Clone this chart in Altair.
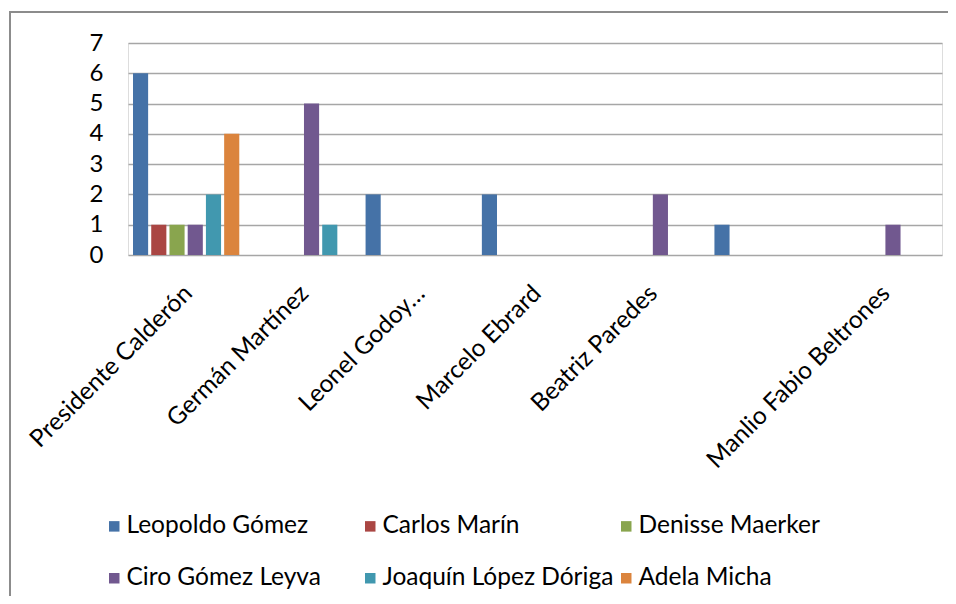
import altair as alt
import pandas as pd

categories = ["Presidente Calderón", "Germán Martínez", "Leonel Godoy…",
              "Marcelo Ebrard", "Beatriz Paredes", " ", "Manlio Fabio Beltrones"]
series = ["Leopoldo Gómez", "Carlos Marín", "Denisse Maerker",
          "Ciro Gómez Leyva", "Joaquín López Dóriga", "Adela Micha"]
colors = ["#4572A7", "#AA4643", "#89A54E", "#71588F", "#4198AF", "#DB843D"]

leopoldo = [6, 0, 2, 2, 0, 1, 0]
carlos = [1, 0, 0, 0, 0, 0, 0]
denisse = [1, 0, 0, 0, 0, 0, 0]
ciro = [1, 5, 0, 0, 2, 0, 1]
joaquin = [2, 1, 0, 0, 0, 0, 0]
adela = [4, 0, 0, 0, 0, 0, 0]

values = [leopoldo, carlos, denisse, ciro, joaquin, adela]
rows = []
for s, vals in zip(series, values):
    for c, v in zip(categories, vals):
        if v > 0:
            rows.append({"categoria": c, "serie": s, "valor": v})
df = pd.DataFrame(rows)

FONT = "Lato"

bars = alt.Chart(df).mark_bar().encode(
    x=alt.X("categoria:N", sort=categories, title=None,
            scale=alt.Scale(domain=categories, paddingInner=0.086, paddingOuter=0.043),
            axis=alt.Axis(labelAngle=-45, labelFontSize=24.5, labelFont=FONT,
                          labelColor="#000000", labelPadding=26, labelOffset=-6,
                          ticks=False, domain=False, grid=False, labelLimit=400)),
    xOffset=alt.XOffset("serie:N", sort=series,
                        scale=alt.Scale(domain=series, paddingInner=0.17, paddingOuter=0)),
    y=alt.Y("valor:Q", title=None,
            scale=alt.Scale(domain=[0, 7], nice=False),
            axis=alt.Axis(values=[0, 1, 2, 3, 4, 5, 6, 7], labelFontSize=24,
                          labelFont=FONT, labelColor="#000000", labelPadding=25,
                          ticks=False, domain=False, grid=True,
                          gridColor="#A6A6A6", gridWidth=1.5)),
    color=alt.Color("serie:N", sort=series,
                    scale=alt.Scale(domain=series, range=colors),
                    legend=alt.Legend(title=None, orient="none", legendX=-26,
                                      legendY=471, columns=3, direction="horizontal",
                                      symbolType="square", symbolSize=110,
                                      symbolStrokeWidth=0, labelFontSize=24.5,
                                      labelFont=FONT, labelColor="#000000",
                                      labelOffset=0, rowPadding=27,
                                      columnPadding=-4, gridAlign="all",
                                      padding=0, labelLimit=400)),
)

frame = alt.Chart(alt.Data(values=[{"a": 1}])).mark_rect(
    fill=None, stroke="#8C8C8C", strokeWidth=2
).encode(
    x=alt.value(-118), x2=alt.value(900),
    y=alt.value(-31), y2=alt.value(600),
)

chart = alt.layer(frame, bars).properties(
    width=814, height=212,
    padding={"left": 120, "top": 35, "right": 6, "bottom": 341},
    autosize=alt.AutoSizeParams(type="none"),
).configure_view(stroke=None).configure(background="white")

chart.save("out.html", embed_options={"renderer": "svg", "actions": False})
